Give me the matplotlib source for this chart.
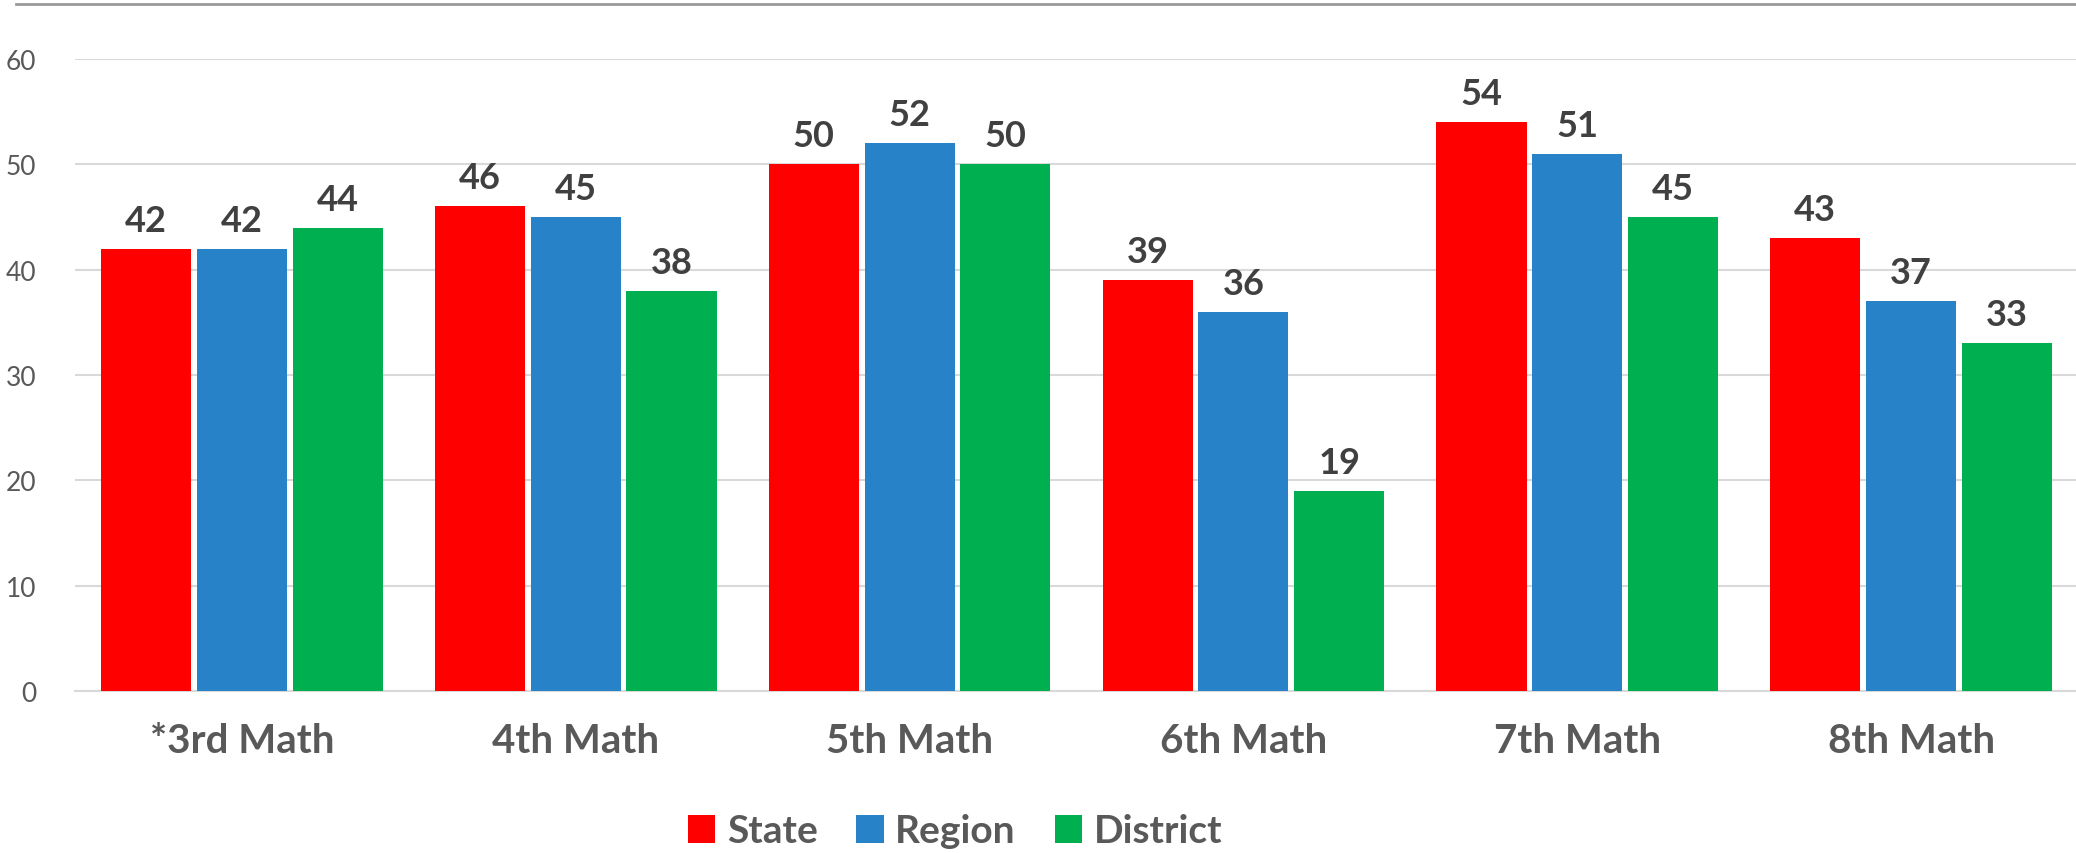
import numpy as np
import matplotlib.pyplot as plt
from matplotlib.lines import Line2D
from matplotlib.patches import Patch

plt.rcParams['font.family'] = ['Lato', 'DejaVu Sans']

categories = ['*3rd Math', '4th Math', '5th Math', '6th Math', '7th Math', '8th Math']
state = [42, 46, 50, 39, 54, 43]
region = [42, 45, 52, 36, 51, 37]
district = [44, 38, 50, 19, 45, 33]
series_names = ['State', 'Region', 'District']
colors = ['#FF0000', '#2882C8', '#00B050']

fig = plt.figure(figsize=(20.76, 8.54), dpi=100)
ax = fig.add_axes([75 / 2076, 162 / 854, 2003 / 2076, 632 / 854])

x = np.arange(len(categories))
width = 0.27
step = 0.287
for i, (vals, col) in enumerate(zip([state, region, district], colors)):
    bars = ax.bar(x + (i - 1) * step, vals, width, color=col, zorder=3)
    for b, v in zip(bars, vals):
        ax.annotate(str(v), (b.get_x() + b.get_width() / 2, v),
                    xytext=(0, 12), textcoords='offset pixels',
                    ha='center', va='bottom', fontsize=26, fontweight='bold',
                    color='#404040', clip_on=False)

ax.set_xlim(-0.5, len(categories) - 0.5)
ax.set_ylim(0, 60)
ax.set_yticks(range(0, 61, 10))
ax.grid(axis='y', color='#D9D9D9', linewidth=1.5, zorder=0)
for s in ['top', 'right', 'left']:
    ax.spines[s].set_visible(False)
ax.spines['bottom'].set_color('#D9D9D9')
ax.spines['bottom'].set_linewidth(1.5)
ax.tick_params(axis='both', length=0)
ax.tick_params(axis='y', labelsize=19, labelcolor='#595959', pad=28)
ax.set_xticks(x)
ax.set_xticklabels(categories, fontsize=29, fontweight='bold', color='#595959')
ax.tick_params(axis='x', pad=22)

handles = [Patch(facecolor=c) for c in colors]
leg = fig.legend(handles, series_names, loc='center', bbox_to_anchor=(955 / 2076, 1 - 832 / 854),
                 ncol=3, frameon=False, fontsize=28, handlelength=0.7, handleheight=0.7,
                 handletextpad=0.3, columnspacing=1.0)
for t in leg.get_texts():
    t.set_color('#595959')
    t.set_fontweight('bold')

fig.add_artist(Line2D([16 / 2076, 1], [1 - 5 / 854, 1 - 5 / 854], color='#999999', linewidth=2))

fig.savefig('out.png', dpi=100)
